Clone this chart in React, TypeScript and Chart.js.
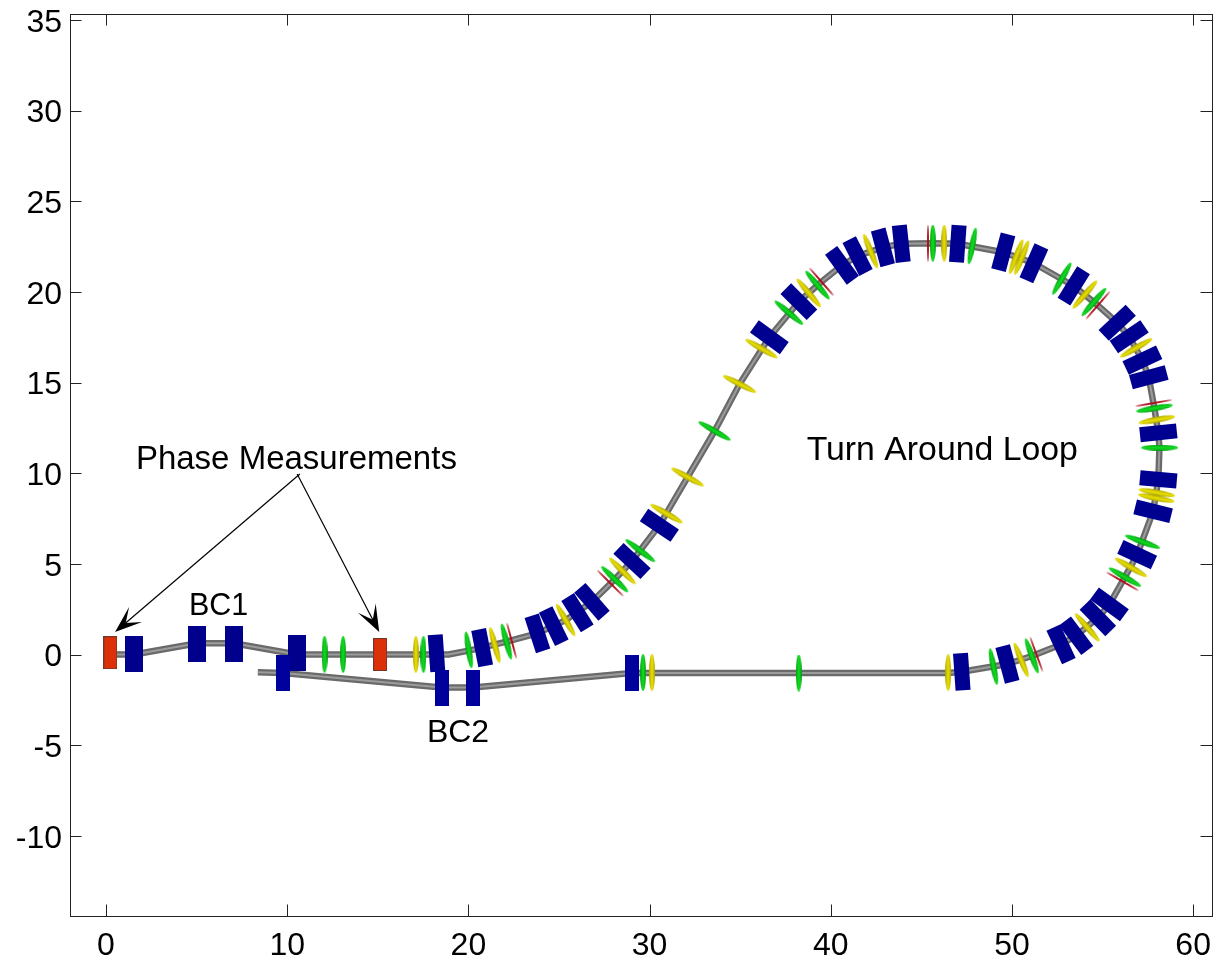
import React, { useEffect, useRef } from "react";
import { Chart, registerables } from "chart.js";

Chart.register(...registerables);

type Row = [number, number, number];

const xTicks = [0, 10, 20, 30, 40, 50, 60];
const yTicks = [-10, -5, 0, 5, 10, 15, 20, 25, 30, 35];

const beamline: [number, number][] = [
  [0, 0], [1.54, 0], [5.04, 0.62], [7.04, 0.62], [10.54, 0], [17.5, 0], [18.9, 0], [20.02, 0.22], [20.76, 0.38], [22.1, 0.71],
  [23.81, 1.17], [25.37, 1.9], [26.82, 2.91], [28.08, 4.15], [29.03, 5.16], [30.54, 7.13], [32.1, 9.79], [33.59, 12.33],
  [34.97, 14.92], [36.61, 17.5], [38.24, 19.46], [39.49, 20.56], [40.62, 21.47], [41.48, 21.98], [42.88, 22.46],
  [43.89, 22.66], [45.63, 22.68], [47.01, 22.66], [49.52, 22.19], [51.21, 21.58], [53.41, 20.33], [54.74, 19.26],
  [55.81, 18.3], [56.47, 17.53], [57.2, 16.24], [57.55, 15.29], [57.86, 13.58], [58.08, 12.23], [58.14, 11.41],
  [58.08, 9.66], [57.79, 7.9], [56.91, 5.51], [56.23, 4.27], [55.38, 2.77], [54.74, 2.03], [53.54, 1.04], [52.71, 0.56],
  [51.1, -0.08], [49.75, -0.52], [47.23, -0.95], [46.48, -1.02], [38.23, -1.02], [29.01, -1.02], [20.26, -1.82],
  [18.52, -1.82], [9.76, -1.02], [8.38, -0.97],
];

const phaseCavities: Row[] = [[0.24, 0.1, 0], [15.13, 0, 0]];

const chicaneDipoles: Row[] = [[1.54, 0.03, 0], [5.04, 0.59, 0], [7.04, 0.59, 0], [10.54, 0.07, 0]];

const bc2Dipoles: Row[] = [[9.76, -1.02, 0], [18.52, -1.82, 0], [20.26, -1.82, 0], [29.01, -1.02, 0]];

const loopDipoles: Row[] = [
  [18.24, 0.07, -4], [20.76, 0.38, -11], [23.81, 1.17, -18], [24.71, 1.57, -26], [26.02, 2.31, -32], [26.82, 2.91, -41],
  [29.03, 5.16, -47], [30.54, 7.13, -56], [36.61, 17.5, -54], [38.24, 19.46, -45], [40.62, 21.47, -36], [41.48, 21.98, -27],
  [42.88, 22.46, -15], [43.89, 22.66, -6], [47.01, 22.66, 4], [49.52, 22.19, 15], [51.21, 21.58, 24], [53.41, 20.33, 32],
  [55.81, 18.3, 47], [56.47, 17.53, 56], [57.2, 16.24, 65], [57.55, 15.29, 75], [58.08, 12.23, 84], [58.08, 9.66, 95],
  [57.79, 7.9, 104], [56.91, 5.51, 115], [55.38, 2.77, 126], [54.74, 2.03, 136], [53.54, 1.04, 143], [52.71, 0.56, 155],
  [49.75, -0.52, -15], [47.23, -0.95, -4],
];

const greenQuads: Row[] = [
  [12.06, 0, 0], [13.09, 0, 0], [17.52, 0, 0], [20.02, 0.25, -9], [22.1, 0.71, -15], [28.08, 4.15, -46], [29.49, 5.73, -53],
  [33.59, 12.33, -60], [37.69, 18.85, -50], [39.27, 20.37, -40], [45.63, 22.68, 0], [47.81, 22.53, 11], [52.75, 20.73, 30],
  [54.52, 19.44, 41], [57.86, 13.58, 80], [58.14, 11.41, 90], [57.2, 6.22, 110], [56.23, 4.27, 120], [51.1, -0.08, -20],
  [48.98, -0.67, -11], [38.23, -1.02, 0], [29.64, -1.0, 0],
];

const yellowQuads: Row[] = [
  [17.1, 0, 0], [21.46, 0.52, -15], [25.37, 1.9, -30], [28.5, 4.61, -45], [30.94, 7.77, -60], [32.1, 9.79, -61],
  [34.97, 14.92, -63], [36.18, 16.87, -60], [38.79, 19.94, -40], [42.2, 22.24, -22], [46.26, 22.68, 0], [50.23, 21.94, 21],
  [50.54, 21.89, 22], [54.02, 19.85, 41], [56.85, 16.91, 60], [57.99, 12.95, 80], [57.99, 8.93, 100], [57.96, 8.63, 101],
  [56.56, 4.81, 120], [54.15, 1.5, 139], [50.51, -0.3, -22], [46.48, -1.0, 0], [30.13, -1.0, 0],
];

const redCorrectors: Row[] = [
  [22.39, 0.76, -15], [27.84, 3.93, -45], [39.49, 20.56, -41], [45.34, 22.68, 0], [54.74, 19.26, 41], [57.82, 13.87, 80],
  [56.1, 4.04, 120], [51.35, 0.01, -20],
];

const labels: { text: string; x: number; y: number; size: number }[] = [
  { text: "Phase Measurements", x: 1.65, y: 10.73, size: 33 },
  { text: "Turn Around Loop", x: 38.67, y: 11.23, size: 33.8 },
  { text: "BC1", x: 4.58, y: 2.64, size: 30.5 },
  { text: "BC2", x: 17.71, y: -4.33, size: 32 },
];

const arrows: { from: [number, number]; to: [number, number] }[] = [
  { from: [10.7, 9.96], to: [0.5, 1.24] },
  { from: [10.55, 9.96], to: [15.08, 1.24] },
];

function boxSprite(w: number, h: number, fill: string, edge?: string) {
  const c = document.createElement("canvas");
  c.width = w;
  c.height = h;
  const g = c.getContext("2d")!;
  g.fillStyle = fill;
  g.fillRect(0, 0, w, h);
  if (edge) {
    g.strokeStyle = edge;
    g.lineWidth = 1;
    g.strokeRect(0.5, 0.5, w - 1, h - 1);
  }
  return c;
}

function lensSprite(w: number, h: number, dark: string, light: string) {
  const c = document.createElement("canvas");
  c.width = w;
  c.height = h;
  const g = c.getContext("2d")!;
  const grad = g.createLinearGradient(0, 0, w, 0);
  grad.addColorStop(0, dark);
  grad.addColorStop(0.5, light);
  grad.addColorStop(1, dark);
  g.fillStyle = grad;
  g.beginPath();
  g.ellipse(w / 2, h / 2, w / 2, h / 2, 0, 0, Math.PI * 2);
  g.fill();
  return c;
}

const toPoints = (rows: Row[]) => rows.map(([x, y]) => ({ x, y }));
const toTilts = (rows: Row[]) => rows.map((r) => r[2]);

function marks(rows: Row[], sprite: HTMLCanvasElement, order: number) {
  return {
    data: toPoints(rows),
    showLine: false,
    pointStyle: sprite,
    pointRotation: toTilts(rows),
    pointRadius: 3,
    order,
  };
}

const FONT = "'Liberation Sans', Arial, sans-serif";

const framePlugin = {
  id: "frame",
  afterDatasetsDraw(chart: any) {
    const { ctx, chartArea: a, scales } = chart;
    const { x: sx, y: sy } = scales;
    ctx.save();
    ctx.strokeStyle = "#222";
    ctx.lineWidth = 1;
    ctx.strokeRect(Math.round(a.left) + 0.5, Math.round(a.top) + 0.5, a.width, a.height);
    ctx.beginPath();
    const tick = 11.5;
    sx.ticks.forEach((t: any) => {
      const p = Math.round(sx.getPixelForValue(t.value)) + 0.5;
      ctx.moveTo(p, a.bottom);
      ctx.lineTo(p, a.bottom - tick);
      ctx.moveTo(p, a.top);
      ctx.lineTo(p, a.top + tick);
    });
    sy.ticks.forEach((t: any) => {
      const p = Math.round(sy.getPixelForValue(t.value)) + 0.5;
      ctx.moveTo(a.left, p);
      ctx.lineTo(a.left + tick, p);
      ctx.moveTo(a.right, p);
      ctx.lineTo(a.right - tick, p);
    });
    ctx.stroke();

    ctx.strokeStyle = "#000";
    ctx.fillStyle = "#000";
    arrows.forEach(({ from, to }) => {
      const fx = sx.getPixelForValue(from[0]);
      const fy = sy.getPixelForValue(from[1]);
      const tx = sx.getPixelForValue(to[0]);
      const ty = sy.getPixelForValue(to[1]);
      const ang = Math.atan2(ty - fy, tx - fx);
      const at = (d: number, o: number): [number, number] => [
        tx - d * Math.cos(ang) - o * Math.sin(ang),
        ty - d * Math.sin(ang) + o * Math.cos(ang),
      ];
      ctx.lineWidth = 1.2;
      ctx.beginPath();
      ctx.moveTo(fx, fy);
      ctx.lineTo(...at(12, 0));
      ctx.stroke();
      ctx.beginPath();
      ctx.moveTo(tx, ty);
      ctx.lineTo(...at(27, 10));
      ctx.lineTo(...at(14, 0));
      ctx.lineTo(...at(27, -10));
      ctx.closePath();
      ctx.fill();
    });

    ctx.textAlign = "left";
    ctx.textBaseline = "middle";
    labels.forEach((l) => {
      ctx.font = `${l.size}px ${FONT}`;
      ctx.fillText(l.text, sx.getPixelForValue(l.x), sy.getPixelForValue(l.y));
    });
    ctx.restore();
  },
};

const zeroX = (s: any) => {
  s.paddingLeft = 0;
  s.paddingRight = 0;
};
const zeroY = (s: any) => {
  s.paddingTop = 0;
  s.paddingBottom = 0;
};

export default function App() {
  const ref = useRef<HTMLCanvasElement>(null);

  useEffect(() => {
    const tubePts = beamline.map(([x, y]) => ({ x, y }));
    const green = lensSprite(6, 37, "#009a10", "#10e020");
    const yellow = lensSprite(6, 37, "#aaa000", "#ece400");
    const red = lensSprite(2, 37, "#a00c18", "#c01020");
    const blue = boxSprite(18, 36, "#00008c");
    const blueNarrow = boxSprite(14, 36, "#00009c");
    const blueLoop = boxSprite(15, 37, "#000090");
    const cavity = boxSprite(14, 33, "#dc3008", "#703828");

    const chart = new Chart(ref.current!, {
      type: "scatter",
      data: {
        datasets: [
          {
            data: tubePts,
            showLine: true,
            borderColor: "#9c9c9c",
            borderWidth: 2,
            borderJoinStyle: "round",
            pointRadius: 0,
            order: 9,
          },
          {
            data: tubePts,
            showLine: true,
            borderColor: "#6a6a6a",
            borderWidth: 6.5,
            borderJoinStyle: "round",
            pointRadius: 0,
            order: 10,
          },
          marks(redCorrectors, red, 8),
          marks(yellowQuads, yellow, 7),
          marks(greenQuads, green, 6),
          marks(loopDipoles, blueLoop, 5),
          marks(chicaneDipoles, blue, 4),
          marks(bc2Dipoles, blueNarrow, 3),
          marks(phaseCavities, cavity, 2),
        ] as any,
      },
      options: {
        animation: false,
        responsive: false,
        layout: { padding: { top: 14, right: 3, left: 0, bottom: 0 } },
        plugins: { legend: { display: false }, tooltip: { enabled: false } },
        scales: {
          x: {
            type: "linear",
            min: -1.987,
            max: 61.04,
            afterFit: (s: any) => {
              s.height = 44;
              zeroX(s);
            },
            afterUpdate: zeroX,
            afterBuildTicks: (s: any) => {
              s.ticks = xTicks.map((value) => ({ value }));
            },
            grid: { display: false, drawTicks: false },
            border: { display: false },
            ticks: {
              autoSkip: false,
              maxRotation: 0,
              padding: 11,
              color: "#000",
              font: { family: FONT, size: 32 },
            },
          },
          y: {
            type: "linear",
            min: -14.42,
            max: 35.33,
            afterFit: (s: any) => {
              s.width = 70;
              zeroY(s);
            },
            afterUpdate: zeroY,
            afterBuildTicks: (s: any) => {
              s.ticks = yTicks.map((value) => ({ value }));
            },
            grid: { display: false, drawTicks: false },
            border: { display: false },
            ticks: {
              autoSkip: false,
              padding: 8,
              labelOffset: 3,
              color: "#000",
              font: { family: FONT, size: 32 },
            },
          },
        },
      },
      plugins: [framePlugin],
    } as any);
    return () => chart.destroy();
  }, []);

  return (
    <div style={{ position: "absolute", left: 0, top: 0, width: 1215, height: 960, background: "#fff", overflow: "hidden" }}>
      <canvas ref={ref} width={1217} height={960} style={{ display: "block" }} />
    </div>
  );
}
